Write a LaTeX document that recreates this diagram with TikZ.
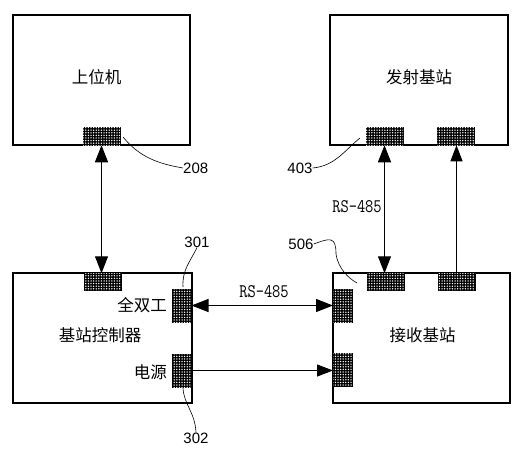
\documentclass[tikz,border=0pt]{standalone}
\usepackage{fontspec}
\newfontfamily\cjk{Noto Sans CJK SC}
\newfontfamily\numfont{Liberation Sans}
\usetikzlibrary{arrows.meta,patterns.meta}
\begin{document}
\begin{tikzpicture}[x=1pt,y=-1pt,
  box/.style={draw=black, line width=1.1pt, minimum width=#1, minimum height=130pt, inner sep=0pt, outer sep=0pt},
  hport/.style={draw=black, line width=0.8pt, fill=black, minimum width=37pt, minimum height=17.5pt, inner sep=0pt, outer sep=0pt,
     postaction={pattern={Dots[distance=2.6pt,radius=0.75pt]}, pattern color=white}},
  vport/.style={hport, minimum width=19pt, minimum height=33pt},
  lbl/.style={font=\cjk\fontsize{16.5}{18}\selectfont, inner sep=0pt},
  num/.style={font=\numfont\fontsize{15}{16}\selectfont, inner sep=0pt},
  rs/.style={font=\ttfamily\fontsize{16}{18}\selectfont, inner sep=0pt},
  conn/.style={line width=1.1pt, {Triangle[length=17pt,width=13pt]}-{Triangle[length=17pt,width=13pt]}},
  conn1/.style={line width=1.1pt, -{Triangle[length=16pt,width=12pt]}},
  lead/.style={line width=0.6pt}]
\useasboundingbox (0,0) rectangle (522,450);
% boxes
\node[box=177pt] (pc) at (101.5,80) {};
\node[box=178pt] (tx) at (419,80) {};
\node[box=179pt] (ctl) at (102.5,338) {};
\node[box=177pt] (rx) at (421.5,338) {};
\draw[line width=2pt] (pc.south west) -- (pc.south east);
\draw[line width=2pt] (tx.south west) -- (tx.south east);
% labels
\node[lbl] (pcl) at (96.5,77) {上位机};
\node[lbl] (txl) at (419,77) {发射基站};
\node[lbl] (ctll) at (100,335) {基站控制器};
\node[lbl] (rxl) at (422.5,335) {接收基站};
\node[lbl, anchor=east] (fd) at (167,305) {全双工};
\node[lbl, anchor=east] (pw) at (167,372) {电源};
% ports
\node[hport] (p208) at (101.5,136.5) {};
\node[hport] (t1) at (384.5,136.5) {};
\node[hport] (t2) at (455.5,136.5) {};
\node[hport] (ctop) at (102.5,282) {};
\node[vport] (cfd) at (182,305.5) {};
\node[vport] (cpw) at (182,370.5) {};
\node[hport] (r1) at (385.5,282) {};
\node[hport] (r2) at (456.5,282) {};
\node[vport] (rl1) at (342.5,305.5) {};
\node[vport] (rl2) at (342.5,370) {};
% connectors
\draw[conn] (p208.south) -- (p208.south |- ctop.north);
\draw[conn] (t1.south) -- (t1.south |- r1.north);
\draw[conn1] (r2.north) -- (r2.north |- t2.south);
\draw[conn] (cfd.east) -- (cfd.east -| rl1.west);
\draw[conn1] (cpw.east) -- (cpw.east -| rl2.west);
% connector labels
\node[rs] (rsm) at (264,292) {\scalebox{1}[1.2]{RS-485}};
\node[rs] (rsr) at (357,207) {\scalebox{1}[1.2]{RS-485}};
% reference numbers
\node[num, anchor=west] (n208) at (183,168) {208};
\node[num] (n403) at (300,168) {403};
\node[num] (n301) at (197,242) {301};
\node[num] (n302) at (196,438) {302};
\node[num] (n506) at (301,244) {506};
\coordinate (a208) at (123,137);
\coordinate (a403) at (360,138);
\coordinate (a301) at (183,287);
\coordinate (a302) at (183,388);
\coordinate (a506) at (357,283);
\draw[lead] (a208) .. controls (140,158) and (160,164) .. (n208.west);
\draw[lead] (n403.east) .. controls (335,166) and (345,150) .. (a403);
\draw[lead] (n301.south) .. controls (190,262) and (182,270) .. (a301);
\draw[lead] (a302) .. controls (184,405) and (195,412) .. (n302.north);
\draw[lead] (n506.east) .. controls (330,238) and (336,236) .. (336,254) .. controls (338,268) and (348,278) .. (a506);
\end{tikzpicture}
\end{document}
